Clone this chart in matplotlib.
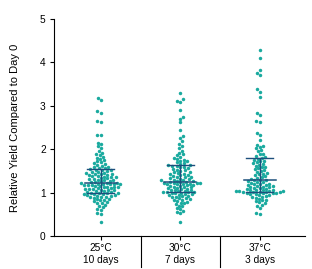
import matplotlib
matplotlib.use("Agg")
import matplotlib.pyplot as plt
import seaborn as sns
import pandas as pd
import numpy as np

categories = ["25°C\n10 days", "30°C\n7 days", "37°C\n3 days"]

vals_25 = [0.33, 0.50, 0.53, 0.60, 0.62, 0.67, 0.70, 0.72, 0.75, 0.77, 0.79, 0.80,
           0.82, 0.84, 0.85, 0.86, 0.88, 0.89, 0.90, 0.91, 0.92, 0.93, 0.94, 0.95,
           0.96, 0.96, 0.97, 0.98, 0.99, 0.99,
           1.00, 1.01, 1.02, 1.03, 1.04, 1.05, 1.06, 1.07, 1.08, 1.08, 1.09, 1.10,
           1.11, 1.12, 1.13, 1.13, 1.14, 1.15, 1.16, 1.17, 1.17, 1.18, 1.19, 1.19,
           1.20, 1.21, 1.21, 1.22, 1.22, 1.23,
           1.24, 1.25, 1.26, 1.27, 1.28, 1.29, 1.30, 1.31, 1.32, 1.33, 1.34, 1.35,
           1.36, 1.37, 1.38, 1.39, 1.40, 1.41, 1.42, 1.43, 1.44, 1.45, 1.46, 1.47,
           1.48, 1.50, 1.51, 1.52, 1.53, 1.54,
           1.56, 1.57, 1.58, 1.60, 1.62, 1.64, 1.66, 1.68, 1.70, 1.72, 1.75, 1.78,
           1.80, 1.83, 1.86, 1.88, 1.92, 1.96, 2.03, 2.07, 2.12, 2.15, 2.32, 2.33,
           2.62, 2.65, 2.84, 2.87, 3.13, 3.18]

vals_30 = [0.33, 0.53, 0.55, 0.58, 0.62, 0.64, 0.68, 0.70, 0.73, 0.75, 0.77, 0.79,
           0.80, 0.82, 0.84, 0.85, 0.87, 0.88, 0.90, 0.91, 0.92, 0.93, 0.94, 0.95,
           0.96, 0.97, 0.98, 0.99, 1.00, 1.01, 1.01, 1.02,
           1.02, 1.03, 1.04, 1.05, 1.06, 1.07, 1.08, 1.09, 1.10, 1.11, 1.12, 1.13,
           1.14, 1.15, 1.16, 1.17, 1.18, 1.19, 1.19, 1.20, 1.21, 1.22, 1.22, 1.23,
           1.23, 1.24, 1.25, 1.25,
           1.26, 1.27, 1.28, 1.29, 1.30, 1.31, 1.32, 1.33, 1.35, 1.36, 1.37, 1.38,
           1.40, 1.41, 1.42, 1.44, 1.45, 1.47, 1.48, 1.50, 1.51, 1.53, 1.55, 1.56,
           1.58, 1.59, 1.61, 1.62, 1.63, 1.64,
           1.66, 1.68, 1.70, 1.72, 1.74, 1.76, 1.78, 1.80, 1.83, 1.86, 1.89, 1.92,
           1.97, 2.02, 2.07, 2.12, 2.18, 2.25, 2.30, 2.45, 2.62, 2.70, 2.75, 2.90,
           3.10, 3.12, 3.15, 3.29]

vals_37 = [0.50, 0.53, 0.65, 0.70, 0.72, 0.75, 0.78, 0.80, 0.82, 0.84, 0.86, 0.88,
           0.90, 0.91, 0.93, 0.94, 0.95, 0.96, 0.97, 0.98, 0.99, 1.00, 1.00, 1.01,
           1.01, 1.02, 1.02, 1.02,
           1.03, 1.03, 1.04, 1.04, 1.05, 1.05, 1.06, 1.07, 1.08, 1.09, 1.10, 1.11,
           1.12, 1.13, 1.14, 1.15, 1.16, 1.17, 1.18, 1.19, 1.20, 1.21, 1.22, 1.24,
           1.25, 1.26, 1.28, 1.29,
           1.30, 1.32, 1.34, 1.36, 1.38, 1.40, 1.42, 1.44, 1.46, 1.48, 1.50, 1.52,
           1.54, 1.56, 1.58, 1.60, 1.62, 1.64, 1.66, 1.68, 1.70, 1.72, 1.74, 1.76,
           1.78, 1.80,
           1.82, 1.85, 1.88, 1.90, 1.95, 1.98, 2.02, 2.05, 2.07, 2.10, 2.22, 2.33,
           2.38, 2.62, 2.65, 2.78, 2.83, 3.20, 3.33, 3.38, 3.70, 3.75, 3.82, 4.10,
           4.28]

medians = [1.23, 1.25, 1.29]
q1 = [1.00, 1.02, 1.02]
q3 = [1.55, 1.64, 1.80]

plt.rcParams['font.family'] = ['Liberation Sans', 'DejaVu Sans']

df = pd.DataFrame({
    "cond": [categories[0]] * len(vals_25) + [categories[1]] * len(vals_30) + [categories[2]] * len(vals_37),
    "val": vals_25 + vals_30 + vals_37,
})

fig = plt.figure(figsize=(3.12, 2.69), dpi=100)
ax = fig.add_axes([0.173, 0.1227, 0.805, 0.8063])

sns.swarmplot(data=df, x="cond", y="val", order=categories, color="#1aaa9f",
              size=2.5, ax=ax, linewidth=0, zorder=2)

bar_col = "#1d4f7c"
for i in range(3):
    ax.plot([i - 0.2, i + 0.2], [medians[i]] * 2, color=bar_col, lw=1.1, zorder=3)
    ax.plot([i - 0.17, i + 0.17], [q1[i]] * 2, color=bar_col, lw=1.0, zorder=3)
    ax.plot([i - 0.17, i + 0.17], [q3[i]] * 2, color=bar_col, lw=1.0, zorder=3)
    ax.plot([i, i], [q1[i], q3[i]], color=bar_col, lw=1.0, zorder=3)

ax.set_xlim(-0.59, 2.57)
ax.set_ylim(0, 5)
ax.set_yticks([0, 1, 2, 3, 4, 5])
ax.set_xticks([0, 1, 2])
ax.set_xticklabels(categories, fontsize=7.3, linespacing=1.3)
ax.tick_params(axis='y', labelsize=7.3, length=3, width=0.8, pad=3)
ax.tick_params(axis='x', length=3, width=0.8, pad=2)
ax.set_xlabel("")
ax.set_ylabel("Relative Yield Compared to Day 0", fontsize=8, labelpad=14)
ax.spines['top'].set_visible(False)
ax.spines['right'].set_visible(False)
ax.spines['left'].set_linewidth(0.8)
ax.spines['bottom'].set_linewidth(0.8)

trans = ax.get_xaxis_transform()
for xs in [0.5, 1.5]:
    ax.plot([xs, xs], [0, -0.143], color="black", lw=0.8, transform=trans, clip_on=False)

fig.savefig("out.png", dpi=100)
